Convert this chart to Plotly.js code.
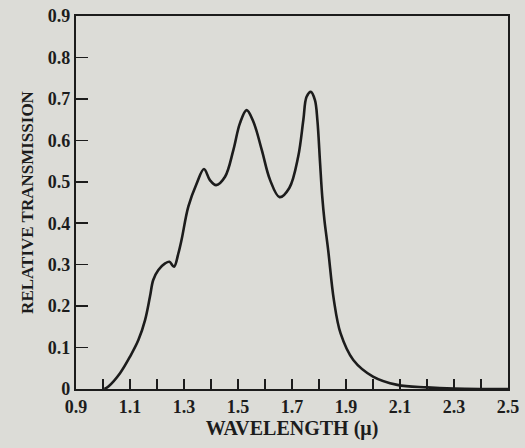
<!DOCTYPE html>
<html>
<head>
<meta charset="utf-8">
<script src="https://cdn.plot.ly/plotly-3.0.1.min.js"></script>
<style>
html,body{margin:0;padding:0;background:#dcdcd7;}
#chart{width:525px;height:448px;}
</style>
</head>
<body>
<div id="chart"></div>
<script>
// Data
var wavelength = [1.005, 1.020, 1.063, 1.100, 1.131, 1.156, 1.174, 1.186, 1.205, 1.230, 1.246, 1.263, 1.279, 1.291, 1.316, 1.347, 1.374, 1.396, 1.419, 1.452, 1.483, 1.507, 1.532, 1.557, 1.588, 1.619, 1.654, 1.690, 1.723, 1.742, 1.754, 1.770, 1.785, 1.794, 1.804, 1.812, 1.820, 1.834, 1.855, 1.880, 1.927, 2.000, 2.090, 2.200, 2.300, 2.400, 2.500];
var transmission = [0.0, 0.006, 0.038, 0.078, 0.118, 0.167, 0.223, 0.263, 0.287, 0.303, 0.307, 0.295, 0.327, 0.36, 0.44, 0.496, 0.531, 0.504, 0.492, 0.512, 0.577, 0.641, 0.673, 0.645, 0.577, 0.504, 0.463, 0.485, 0.561, 0.649, 0.705, 0.717, 0.697, 0.649, 0.545, 0.464, 0.408, 0.335, 0.215, 0.134, 0.07, 0.03, 0.01, 0.004, 0.001, 0.0, 0.0];

var xTickVals = [0.9, 1.1, 1.3, 1.5, 1.7, 1.9, 2.1, 2.3, 2.5];
var xTickText = ["0.9", "1.1", "1.3", "1.5", "1.7", "1.9", "2.1", "2.3", "2.5"];
var yTickVals = [0, 0.1, 0.2, 0.3, 0.4, 0.5, 0.6, 0.7, 0.8, 0.9];
var yTickText = ["0", "0.1", "0.2", "0.3", "0.4", "0.5", "0.6", "0.7", "0.8", "0.9"];

var ink = '#1c1c1c';
var bg = '#dcdcd7';
var serif = 'Liberation Serif, Times New Roman, serif';

var trace = {
  x: wavelength,
  y: transmission,
  type: 'scatter',
  mode: 'lines',
  line: {color: ink, width: 2.6, shape: 'spline', smoothing: 1},
  hoverinfo: 'skip'
};

var layout = {
  width: 525,
  height: 448,
  margin: {l: 76, r: 17, t: 16, b: 59},
  paper_bgcolor: bg,
  plot_bgcolor: bg,
  showlegend: false,
  font: {family: serif, color: ink, size: 15, weight: 'bold'},
  xaxis: {
    range: [0.9, 2.5],
    tickmode: 'array',
    tickvals: xTickVals,
    ticktext: xTickText,
    ticks: 'inside',
    ticklen: 10,
    tickwidth: 1.5,
    tickcolor: ink,
    minor: {dtick: 0.1, tick0: 0.9, ticks: 'inside', ticklen: 10, tickwidth: 1.5, tickcolor: ink},
    showgrid: false,
    zeroline: false,
    showline: true,
    linecolor: ink,
    linewidth: 2.2,
    mirror: true,
    tickfont: {family: serif, size: 18, color: ink, weight: 'bold'},
    title: {text: 'WAVELENGTH (\u03bc)', font: {family: serif, size: 20, color: ink, weight: 'bold'}, standoff: 4}
  },
  yaxis: {
    range: [0, 0.9],
    tickmode: 'array',
    tickvals: yTickVals,
    ticktext: yTickText,
    ticks: 'inside',
    ticklen: 12,
    tickwidth: 1.5,
    tickcolor: ink,
    showgrid: false,
    zeroline: false,
    showline: true,
    linecolor: ink,
    linewidth: 2.2,
    mirror: true,
    tickfont: {family: serif, size: 18, color: ink, weight: 'bold'},
    title: {text: 'RELATIVE TRANSMISSION', font: {family: serif, size: 17, color: ink, weight: 'bold'}, standoff: 10}
  }
};

Plotly.newPlot('chart', [trace], layout, {displayModeBar: false, staticPlot: true});
</script>
</body>
</html>
